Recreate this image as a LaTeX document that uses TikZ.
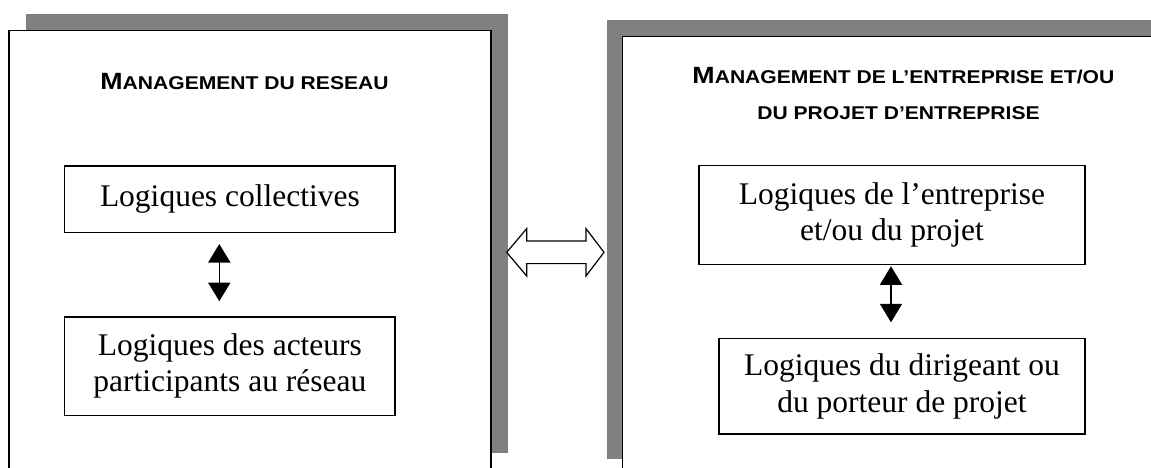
\documentclass[tikz,border=0pt]{standalone}
\usepackage{fontspec}
\setmainfont{Liberation Serif}
\newfontfamily\titlefont[FakeStretch=1.14]{Liberation Sans}
\usetikzlibrary{arrows.meta,calc}
\newcommand\myBigCap[1]{{\fontsize{23.5}{23.5}\selectfont #1}}
\newcommand\mySmallCap[1]{{\fontsize{18.5}{18.5}\selectfont #1}}
\definecolor{shadowgray}{HTML}{808080}
\tikzset{
  shadowbox/.style={fill=shadowgray, draw=none},
  outerbox/.style={fill=white, draw=black, line width=1.5pt},
  innerbox/.style={draw=black, line width=1.3pt, fill=white, inner sep=0pt, align=center,
    font=\fontsize{31.5}{36.5}\selectfont},
  titletext/.style={font=\titlefont\bfseries, inner sep=0pt, anchor=base},
  biarrow/.style={line width=1.6pt, {Triangle[width=22pt,length=18.5pt]}-{Triangle[width=22pt,length=18.5pt]}},
  hollowarrow/.style={draw=black, fill=white, line width=1.2pt, line join=miter}
}
\begin{document}
\begin{tikzpicture}[x=1pt,y=-1pt]
\useasboundingbox (0,0) rectangle (1151,467);
\clip (0,0) rectangle (1151,467);
% left outer box with shadow
\fill[shadowbox] (25.5,14.2) rectangle (507.5,452.7);
\draw[outerbox] (9,30.7) rectangle (491,475);
% right outer box with shadow
\fill[shadowbox] (606.7,20.2) rectangle (1160,459.3);
\draw[outerbox] (622.7,36.7) rectangle (1180,480);
% titles
\node[titletext] (lt) at (244.5,89.3) {\myBigCap{M}\mySmallCap{ANAGEMENT DU RESEAU}};
\node[titletext] (rt1) at (903.4,83.3) {\myBigCap{M}\mySmallCap{ANAGEMENT DE L’ENTREPRISE ET/OU}};
\node[titletext] (rt2) at (898.5,119) {\mySmallCap{DU PROJET D’ENTREPRISE}};
% left inner boxes
\node[innerbox, minimum width=330.3pt, minimum height=66.3pt] (lc) at (229.9,199.2) {Logiques collectives};
\node[innerbox, minimum width=330.3pt, minimum height=98.3pt] (la) at (229.9,366) {Logiques des acteurs\\participants au réseau};
% right inner boxes
\node[innerbox, minimum width=386pt, minimum height=98.6pt] (re) at (892,215) {Logiques de l’entreprise\\et/ou du projet};
\node[innerbox, minimum width=366pt, minimum height=95.5pt] (rd) at (902,386.2) {Logiques du dirigeant ou\\du porteur de projet};
% vertical double arrows
\draw[biarrow] ([xshift=-10.6pt,yshift=-11pt]lc.south) -- ([xshift=-10.6pt,yshift=15pt]la.north);
\draw[biarrow] ([xshift=-1pt,yshift=-1.3pt]re.south) -- ([xshift=-11pt,yshift=15.5pt]rd.north);
% hollow double arrow between the two outer boxes
\coordinate (mid) at (555.4,252.3);
\begin{scope}[shift={(mid)}]
\draw[hollowarrow] (-48.7,0) -- (-28.7,-23.7) -- (-28.7,-11.3) -- (30.6,-11.3) -- (30.6,-23.7)
  -- (48.6,0) -- (30.6,23.7) -- (30.6,11.3) -- (-28.7,11.3) -- (-28.7,23.7) -- cycle;
\end{scope}
\end{tikzpicture}
\end{document}
